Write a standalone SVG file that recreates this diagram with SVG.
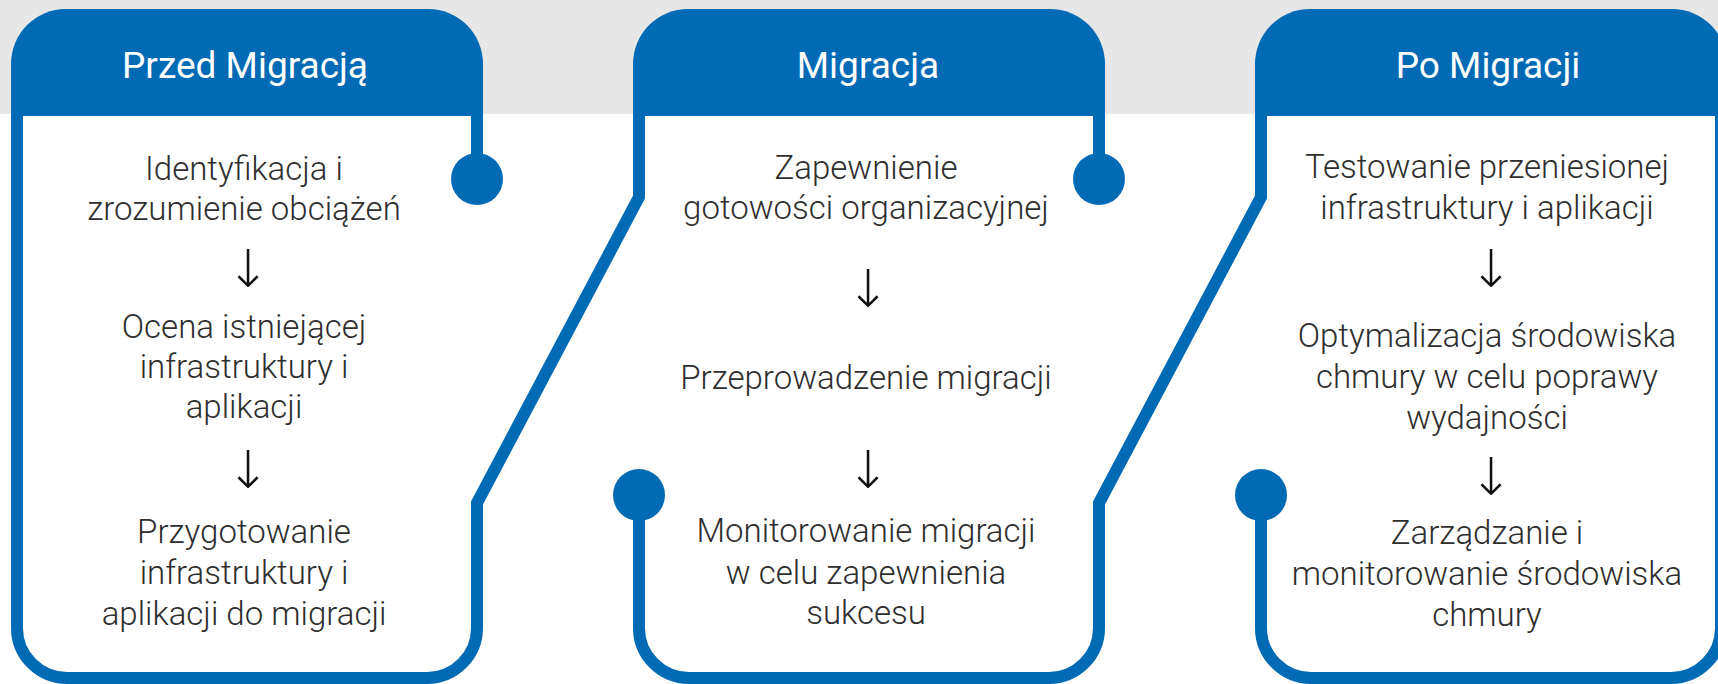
<svg xmlns="http://www.w3.org/2000/svg" width="1718" height="684" viewBox="0 0 1718 684">
<style>
.band{fill:#e7e7e7}
.hdr{fill:#006ab4}
.line{fill:none;stroke:#006ab4;stroke-width:12;stroke-linejoin:miter;stroke-linecap:butt}
.dot{fill:#006ab4}
.title{font-family:Roboto,"Liberation Sans",sans-serif;font-weight:400;font-size:37px;fill:#ffffff;text-anchor:middle}
.body{font-family:Roboto,"Liberation Sans",sans-serif;font-weight:300;font-size:33px;fill:#2e2e2e;text-anchor:middle}
.arr{font-family:Roboto,"Noto Sans","DejaVu Sans",sans-serif;font-weight:300;font-size:52px;fill:#111;text-anchor:middle}
</style>
<rect class="band" x="0" y="0" width="1718" height="114"/>
<g id="connectors">
<path class="line" d="M477,540 L477,503 L639,197 L639,114"/>
<path class="line" d="M1099,540 L1099,503 L1261,197 L1261,114"/>
</g>
<g id="panel-przed">
<path class="hdr" d="M11,116 V64 A55,55 0 0 1 66,9 H428 A55,55 0 0 1 483,64 V116 Z"/>
<path class="line" d="M17,114 V628 A50,50 0 0 0 67,678 H427 A50,50 0 0 0 477,628 V503"/>
<path class="line" d="M477,114 V170"/>
<circle class="dot" cx="477" cy="179" r="26"/>
<text class="title" x="245" y="78">Przed Migracją</text>
<text class="body" x="244" y="180">Identyfikacja i</text>
<text class="body" x="244" y="220">zrozumienie obciążeń</text>
<text class="arr" x="248" y="287">↓</text>
<text class="body" x="244" y="338">Ocena istniejącej</text>
<text class="body" x="244" y="378">infrastruktury i</text>
<text class="body" x="244" y="418">aplikacji</text>
<text class="arr" x="248" y="488">↓</text>
<text class="body" x="244" y="543">Przygotowanie</text>
<text class="body" x="244" y="584">infrastruktury i</text>
<text class="body" x="244" y="625">aplikacji do migracji</text>
</g>
<g id="panel-migracja">
<path class="hdr" d="M633,116 V64 A55,55 0 0 1 688,9 H1050 A55,55 0 0 1 1105,64 V116 Z"/>
<path class="line" d="M639,500 V628 A50,50 0 0 0 689,678 H1049 A50,50 0 0 0 1099,628 V503"/>
<path class="line" d="M1099,114 V170"/>
<circle class="dot" cx="1099" cy="179" r="26"/>
<circle class="dot" cx="639" cy="495" r="26"/>
<text class="title" x="868" y="78">Migracja</text>
<text class="body" x="866" y="179">Zapewnienie</text>
<text class="body" x="866" y="219">gotowości organizacyjnej</text>
<text class="arr" x="868" y="307">↓</text>
<text class="body" x="866" y="389">Przeprowadzenie migracji</text>
<text class="arr" x="868" y="488">↓</text>
<text class="body" x="866" y="542">Monitorowanie migracji</text>
<text class="body" x="866" y="584">w celu zapewnienia</text>
<text class="body" x="866" y="624">sukcesu</text>
</g>
<g id="panel-po">
<path class="hdr" d="M1255,116 V64 A55,55 0 0 1 1310,9 H1672 A55,55 0 0 1 1727,64 V116 Z"/>
<path class="line" d="M1261,500 V628 A50,50 0 0 0 1311,678 H1671 A50,50 0 0 0 1721,628 V114"/>
<circle class="dot" cx="1261" cy="495" r="26"/>
<text class="title" x="1488" y="78">Po Migracji</text>
<text class="body" x="1487" y="178">Testowanie przeniesionej</text>
<text class="body" x="1487" y="219">infrastruktury i aplikacji</text>
<text class="arr" x="1491" y="287">↓</text>
<text class="body" x="1487" y="347">Optymalizacja środowiska</text>
<text class="body" x="1487" y="388">chmury w celu poprawy</text>
<text class="body" x="1487" y="429">wydajności</text>
<text class="arr" x="1491" y="495">↓</text>
<text class="body" x="1487" y="544">Zarządzanie i</text>
<text class="body" x="1487" y="585">monitorowanie środowiska</text>
<text class="body" x="1487" y="626">chmury</text>
</g>
</svg>
